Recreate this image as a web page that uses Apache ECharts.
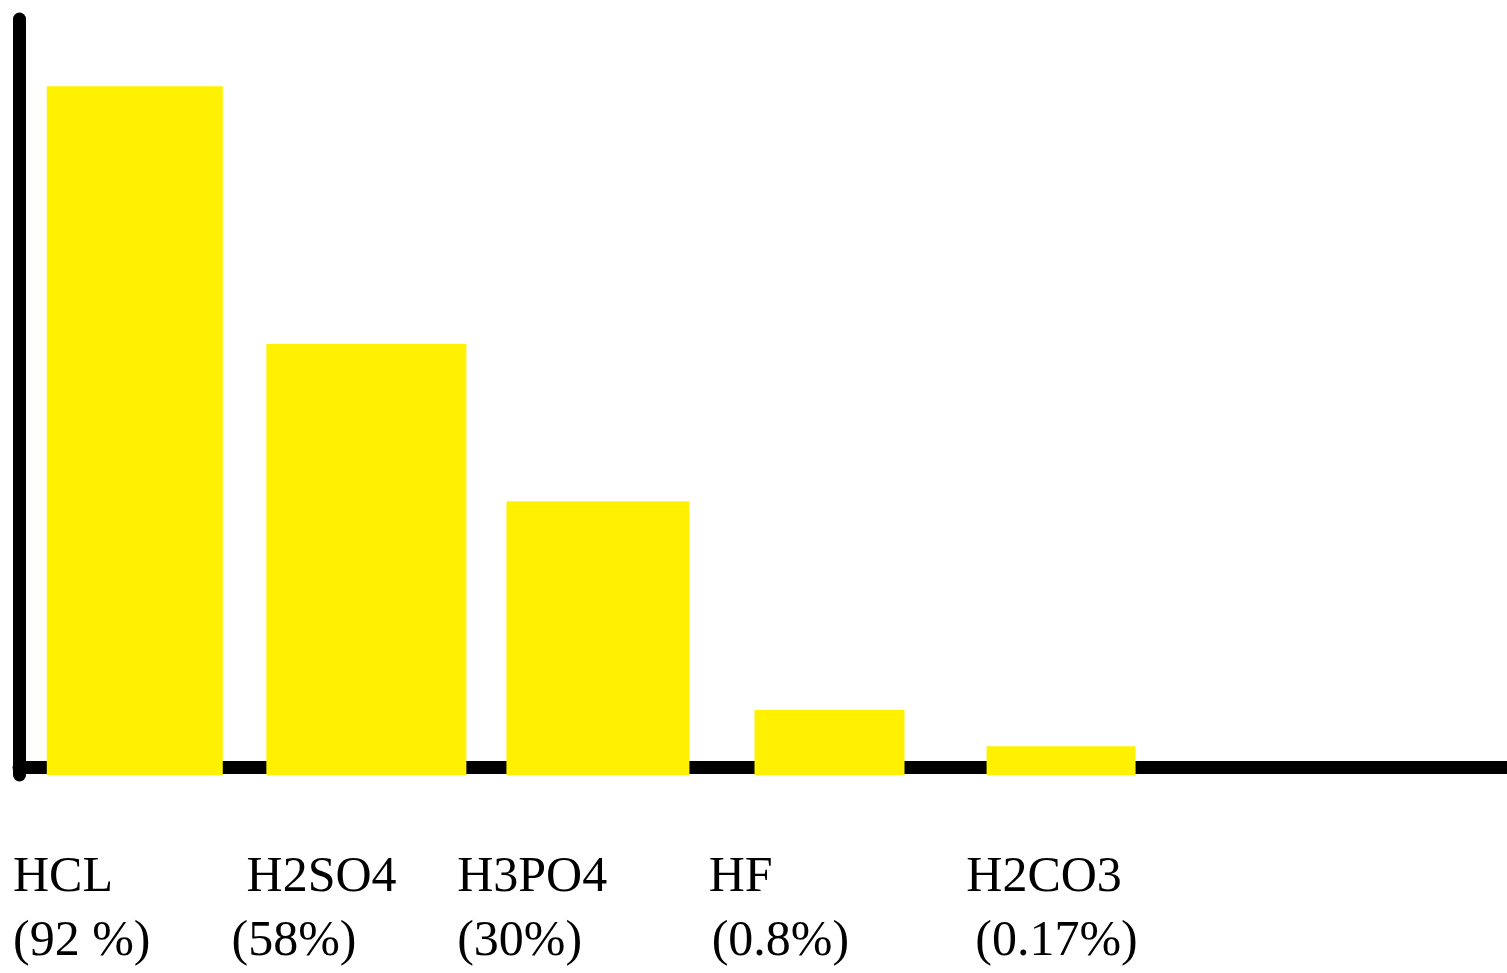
<!DOCTYPE html>
<html>
<head>
<meta charset="utf-8">
<script src="https://cdn.jsdelivr.net/npm/echarts@6/dist/echarts.min.js"></script>
<style>
  html, body { margin: 0; padding: 0; background: #fff; }
  #acidChart { width: 1507px; height: 973px; }
</style>
</head>
<body>
<div id="acidChart"></div>
<script>
var acidNames = ['HCL', 'H2SO4', 'H3PO4', 'HF', 'H2CO3'];
var acidPctLabels = ['(92 %)', '(58%)', '(30%)', '(0.8%)', '(0.17%)'];
var barHeights = [91.1, 57.0, 36.2, 8.6, 3.8];

// drawn widths of each bar (px), they are not all the same in the picture
var barWidths = [176, 200, 183, 150, 149];

var barCats = acidNames.concat(['', '']);
var labelCats = acidNames.concat(['', '', '']);
// hand placed text in the picture: small left nudges for each line
var namePad = [23, 25, 4, 24, 50];
var pctPad = [23, 10, 4, 27, 59];

var dom = document.getElementById('acidChart');
var chart = echarts.init(dom);

function labelRich() {
    var r = {};
    var base = {
        fontFamily: 'Liberation Serif',
        fontSize: 50,
        lineHeight: 64,
        color: '#000'
    };
    for (var i = 0; i < acidNames.length; i++) {
        r['n' + i] = Object.assign({ padding: [0, 0, 0, namePad[i]] }, base);
        r['p' + i] = Object.assign({ padding: [0, 0, 0, pctPad[i]] }, base);
    }
    return r;
}

var option = {
    backgroundColor: '#ffffff',
    animation: false,
    grid: [
        { left: 19, right: -133, top: 19, bottom: 198, outerBoundsMode: 'none' },
        { left: -10, right: -104, top: 19, bottom: 198, outerBoundsMode: 'none' }
    ],
    xAxis: [
        {
            type: 'category',
            gridIndex: 0,
            data: barCats,
            boundaryGap: true,
            offset: -8,
            axisLine: { show: true, onZero: false, lineStyle: { color: '#000', width: 13 } },
            axisTick: { show: false },
            axisLabel: { show: false },
            splitLine: { show: false }
        },
        {
            type: 'category',
            gridIndex: 1,
            data: labelCats,
            boundaryGap: false,
            position: 'bottom',
            axisLine: { show: false },
            axisTick: { show: false },
            splitLine: { show: false },
            axisLabel: {
                interval: 0,
                align: 'left',
                margin: 71,
                formatter: function (value, idx) {
                    if (!value) return '';
                    return '{n' + idx + '|' + value + '}\n{p' + idx + '|' + acidPctLabels[idx] + '}';
                },
                rich: labelRich()
            }
        }
    ],
    yAxis: [
        {
            type: 'value',
            gridIndex: 0,
            min: 0,
            max: 100,
            axisLine: { show: true, lineStyle: { color: '#000', width: 13, cap: 'round' } },
            axisTick: { show: false },
            axisLabel: { show: false },
            splitLine: { show: false }
        },
        {
            type: 'value',
            gridIndex: 1,
            min: 0,
            max: 100,
            show: false
        }
    ],
    series: [
        {
            type: 'custom',
            xAxisIndex: 0,
            yAxisIndex: 0,
            data: barHeights.map(function (v, i) { return [i, v]; }),
            renderItem: function (params, api) {
                var i = params.dataIndex;
                var top = api.coord([api.value(0), api.value(1)]);
                var base = api.coord([api.value(0), 0]);
                var w = barWidths[i];
                return {
                    type: 'rect',
                    shape: { x: top[0] - w / 2, y: top[1], width: w, height: base[1] - top[1] },
                    style: { fill: '#fff100' }
                };
            },
            z: 5
        }
    ]
};

chart.setOption(option);
</script>
</body>
</html>
